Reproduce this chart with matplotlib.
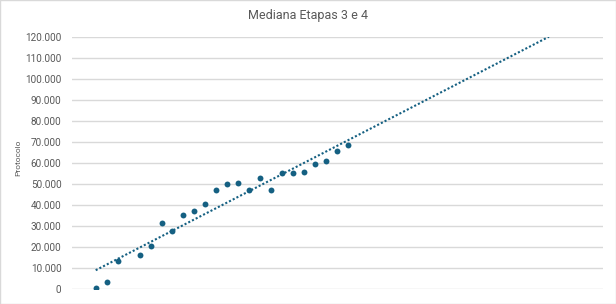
import numpy as np
import matplotlib.pyplot as plt
from matplotlib.ticker import FuncFormatter, MultipleLocator
from matplotlib.patches import Rectangle

# data
etapa = [3, 4, 5, 7, 8, 9, 10, 11, 12, 13, 14, 15, 16, 17, 18, 19, 20, 21, 22, 23, 24, 25, 26]
protocolo = [570, 3420, 13400, 16250, 20500, 31450, 27650, 35250, 37300, 40500,
             47100, 50000, 50450, 47100, 52800, 47100, 55200, 55200, 55700,
             59500, 60900, 65650, 68500]

cor = '#156082'

plt.rcParams['font.family'] = ['Roboto', 'DejaVu Sans']

fig = plt.figure(figsize=(6.16, 3.04), dpi=100)
ax = fig.add_axes([72/616, 14.7/304, 531/616, 252.6/304])

ax.scatter(etapa, protocolo, s=18, color=cor, zorder=3, linewidths=0)

# linear trendline, extended forward up to 120.000
a, b = np.polyfit(etapa, protocolo, 1)
x_fim = (120000 - b) / a
xt = np.array([etapa[0], x_fim])
ax.plot(xt, a * xt + b, color=cor, linestyle=(0, (1, 1)), linewidth=1.5, zorder=2)

ax.set_xlim(0.84, 49.24)
ax.set_ylim(0, 120000)
ax.yaxis.set_major_locator(MultipleLocator(10000))
ax.yaxis.set_major_formatter(FuncFormatter(lambda v, p: f"{v:,.0f}".replace(",", ".")))
ax.grid(axis='y', color='#D9D9D9', linewidth=1)
ax.set_axisbelow(True)
ax.set_xticks([])
for s in ax.spines.values():
    s.set_visible(False)
ax.tick_params(axis='y', length=0, pad=7.5, labelsize=7.2, labelcolor='#595959')

fig.text(18/616, 1 - 158/304, 'Protocolo', rotation=90, ha='center', va='center',
         fontsize=6, color='#595959')
fig.text(307.5/616, 1 - 15/304, 'Mediana Etapas 3 e 4', ha='center', va='center',
         fontsize=9, color='#595959')

fig.patches.append(Rectangle((0.0008, 0.0016), 0.9984, 0.9968, transform=fig.transFigure,
                             fill=False, edgecolor='#D9D9D9', linewidth=1))

plt.savefig('out.png', dpi=100)
